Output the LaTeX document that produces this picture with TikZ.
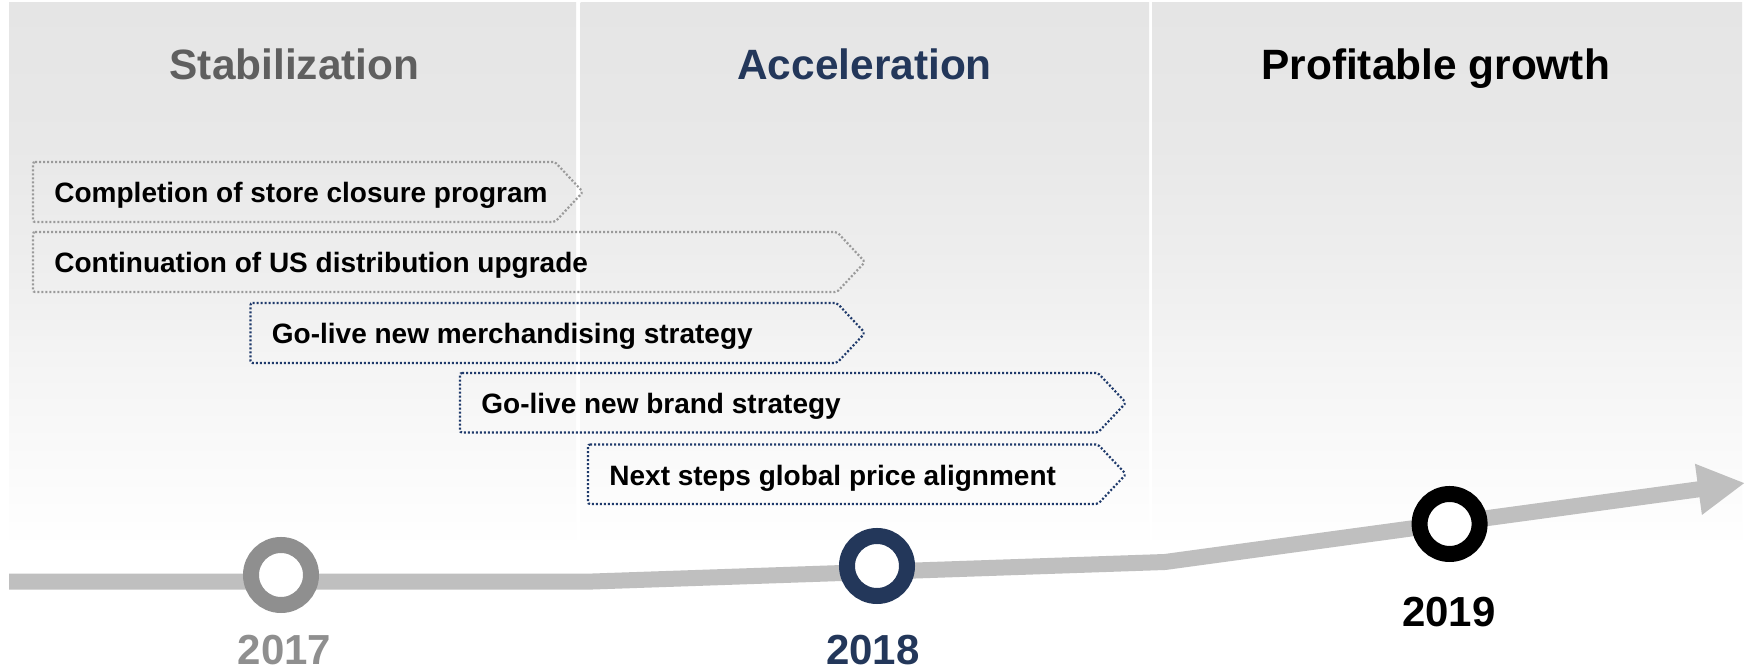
\documentclass[tikz,border=0pt]{standalone}
\usepackage{fontspec}
\setmainfont{Liberation Sans}
\usetikzlibrary{arrows.meta}
\definecolor{navy}{HTML}{23375A}
\definecolor{dnavy}{HTML}{1F3A6B}
\definecolor{hgray}{HTML}{5F5F5F}
\definecolor{ygray}{HTML}{8F8F8F}
\definecolor{dgray}{HTML}{9A9A9A}
\definecolor{tline}{HTML}{BFBFBF}
\definecolor{bgA}{HTML}{E5E5E5}
\definecolor{bgB}{HTML}{E8E8E8}
\definecolor{bgC}{HTML}{EEEEEE}
\definecolor{bgD}{HTML}{F7F7F7}
\pgfdeclareverticalshading{colfade}{100bp}{color(0bp)=(white); color(25bp)=(white); color(38bp)=(bgD); color(51bp)=(bgC); color(62bp)=(bgB); color(75bp)=(bgA); color(100bp)=(bgA)}
\tikzset{
  head/.style={font=\fontsize{21.2pt}{25pt}\selectfont\bfseries, inner sep=0pt, anchor=base},
  year/.style={font=\fontsize{21pt}{25pt}\selectfont\bfseries, inner sep=0pt, anchor=base},
  boxtext/.style={font=\fontsize{14pt}{17pt}\selectfont\bfseries, inner sep=0pt, anchor=base west},
  gbox/.style={draw=dgray, line width=1.1pt, dash pattern=on 1pt off 1pt, rounded corners=1pt},
  nbox/.style={draw=dnavy, line width=1.1pt, dash pattern=on 1pt off 1pt, rounded corners=1pt},
  ring/.style={circle, line width=8pt, minimum size=30pt, inner sep=0pt, fill=white},
}
\newcommand\tlbox[7]{% name, left, top, bottom, tip, style, text
  \draw[#6] (#2,#3) -- ({#5-28},#3) -- (#5,{(#3+#4)/2}) -- ({#5-28},#4) -- (#2,#4) -- cycle;
  \node[boxtext] (#1) at ({#2+21},{(#3+#4)/2+11}) {#7};
}
\begin{document}
\begin{tikzpicture}[x=0.5pt, y=-0.5pt]
\useasboundingbox (0,0) rectangle (1753,672);
\fill[white] (0,0) rectangle (1753,672);
% columns
\shade[shading=colfade] (9,3) rectangle (576,548);
\shade[shading=colfade] (580.5,3) rectangle (1149,548);
\shade[shading=colfade] (1152,3) rectangle (1742,548);
% headers
\node[head, text=hgray] (h1) at (294.5,79.5) {Stabilization};
\node[head, text=navy] (h2) at (864.6,79.5) {Acceleration};
\node[head, text=black] (h3) at (1435.7,79.5) {Profitable growth};
% boxes
\tlbox{b1}{33}{162}{222}{583}{gbox}{Completion of store closure program}
\tlbox{b2}{33}{232}{292}{865}{gbox}{Continuation of US distribution upgrade}
\tlbox{b3}{250.5}{303}{363}{865}{nbox}{Go-live new merchandising strategy}
\tlbox{b4}{460}{373}{432.5}{1126}{nbox}{Go-live new brand strategy}
\tlbox{b5}{588}{444.5}{504}{1126}{nbox}{Next steps global price alignment}
% timeline
\coordinate (t0) at (9,581.7);
\coordinate (t1) at (587,581.7);
\coordinate (t2) at (1165,562);
\coordinate (t3) at (1745,483);
\draw[tline, line width=8pt, -{Triangle[length=23.5pt,width=24pt]}] (t0) -- (t1) -- (t2) -- (t3);
% milestones
\node[ring, draw=ygray] (c1) at (281,575) {};
\node[ring, draw=navy] (c2) at (877,566) {};
\node[ring, draw=black] (c3) at (1449.6,524) {};
% years
\node[year, text=ygray] (y1) at (284.5,665) {2017};
\node[year, text=navy] (y2) at (873,665) {2018};
\node[year, text=black] (y3) at (1449,627) {2019};
\end{tikzpicture}
\end{document}
